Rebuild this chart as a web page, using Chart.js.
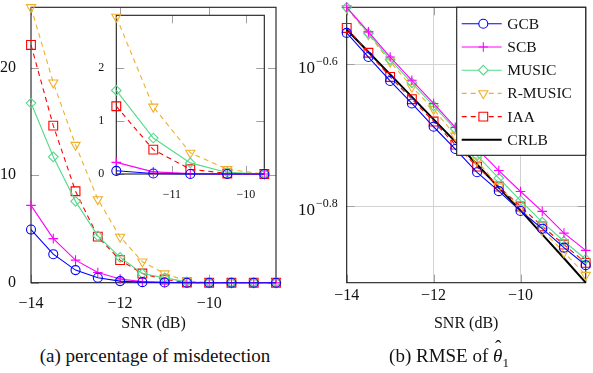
<!DOCTYPE html>
<html>
<head>
<meta charset="utf-8">
<script src="https://cdn.jsdelivr.net/npm/chart.js@4.4.1/dist/chart.umd.min.js"></script>
<style>
  body { margin: 0; background: #fff; width: 593px; height: 373px; position: relative; overflow: hidden; font-family: "Liberation Serif", "Times New Roman", Tinos, "DejaVu Serif", serif; }
  .quadro { position: absolute; }
  .legenda-fig { position: absolute; top: 345px; font-size: 19px; line-height: 22px; white-space: nowrap; transform: translateX(-50%); color: #111; }
  .legenda-fig sub { font-size: 13px; line-height: 0; }
  .chapeu { position: relative; font-style: italic; }
  .chapeu span { position: absolute; left: 2px; top: -9px; font-style: normal; }
  .teste { position: absolute; left: 300px; font-size: 14px; }
</style>
</head>
<body>
<canvas id="graficoDeteccao" class="quadro" style="left:0;top:0" width="290" height="340"></canvas>
<canvas id="graficoZoom" class="quadro" style="left:96px;top:8px" width="180" height="200"></canvas>
<canvas id="graficoRmse" class="quadro" style="left:290px;top:0" width="303" height="340"></canvas>
<div class="legenda-fig" style="left:155px">(a) percentage of misdetection</div>
<div class="legenda-fig" style="left:449px">(b) RMSE of <span class="chapeu">θ<span>ˆ</span></span><sub>1</sub></div>

<script>
/* ============================
   DADOS
============================ */

const snr = [-14, -13.5, -13, -12.5, -12, -11.5, -11, -10.5, -10, -9.5, -9, -8.5];
const snrTicks = [-14, -12, -10];

// (a) percentagem de falha de detecção
const falhaGCB    = [4.94, 2.65, 1.17, 0.46, 0.15, 0.05, 0.02, 0, 0, 0, 0, 0];
const falhaSCB    = [7.19, 4.10, 2.10, 0.95, 0.35, 0.10, 0.03, 0, 0, 0, 0, 0];
const falhaMUSIC  = [16.7, 11.7, 7.56, 4.35, 2.35, 0.85, 0.45, 0.08, 0, 0, 0, 0];
const falhaRMUSIC = [25.6, 18.6, 12.8, 7.75, 4.26, 1.95, 0.85, 0.15, 0.02, 0, 0, 0];
const falhaIAA    = [22.1, 14.6, 8.5, 4.28, 2.1, 0.85, 0.3, 0.02, 0, 0, 0, 0];
const falhaTicks  = [0, 10, 20];

// detalhe (inset)
const snrZoom      = [-11.75, -11.25, -10.75, -10.25, -9.75];
const snrZoomTicks = [-11, -10];
const zoomGCB    = [0.06, 0.01, 0, 0, 0];
const zoomSCB    = [0.22, 0.04, 0.01, 0, 0];
const zoomMUSIC  = [1.58, 0.68, 0.21, 0.03, 0];
const zoomRMUSIC = [2.97, 1.27, 0.40, 0.09, 0];
const zoomIAA    = [1.28, 0.46, 0.09, 0.01, 0];
const zoomTicks  = [0, 1, 2];

// (b) RMSE de theta_1
const rmseGCB    = [0.2782, 0.2572, 0.2380, 0.2212, 0.2051, 0.1908, 0.1769, 0.1664, 0.1560, 0.1473, 0.1385, 0.1308];
const rmseSCB    = [0.3023, 0.2791, 0.2572, 0.2385, 0.2212, 0.2047, 0.1910, 0.1779, 0.1662, 0.1558, 0.1452, 0.1373];
const rmseMUSIC  = [0.3023, 0.2777, 0.2550, 0.2366, 0.2195, 0.2036, 0.1867, 0.1736, 0.1614, 0.1505, 0.1414, 0.1334];
const rmseRMUSIC = [0.3014, 0.2768, 0.2533, 0.2334, 0.2172, 0.1992, 0.1837, 0.1689, 0.1573, 0.1465, 0.1365, 0.1267];
const rmseIAA    = [0.2827, 0.2608, 0.2411, 0.2243, 0.2086, 0.1935, 0.1802, 0.1689, 0.1583, 0.1484, 0.1399, 0.1318];
const rmseCRLB   = [0.2813, 0.2614, 0.2431, 0.2260, 0.2101, 0.1954, 0.1814, 0.1684, 0.1563, 0.1446, 0.1338, 0.1236];
const rmseExpoentes = [-0.8, -0.6];

/* ============================
   ESTILOS
============================ */

const FONTE = "'Liberation Serif', 'Times New Roman', Tinos, 'DejaVu Serif', serif";

const estilos = {
    "GCB":     { cor: "#0000ff", marcador: "circle",   raio: 4.5 },
    "SCB":     { cor: "#ff00ff", marcador: "cross",    raio: 4.8 },
    "MUSIC":   { cor: "#55d98a", marcador: "rectRot",  raio: 4.8 },
    "R-MUSIC": { cor: "#eeb02c", marcador: "triangle", raio: 5.3, rotacao: 180, traco: [5, 4] },
    "IAA":     { cor: "#ff0000", marcador: "rect",     raio: 6.2, traco: [5, 4] },
    "CRLB":    { cor: "#000000", marcador: false,      raio: 0, largura: 2 }
};

Chart.defaults.font.family = FONTE;
Chart.defaults.color = "#111";
Chart.defaults.animation = false;

function serie(label, xs, ys) {
    const e = estilos[label];
    return {
        label,
        data: ys.map((v, i) => ({ x: xs[i], y: v })),
        borderColor: e.cor,
        backgroundColor: "transparent",
        borderWidth: e.largura || 1.1,
        borderDash: e.traco || [],
        pointStyle: e.marcador,
        pointRadius: e.raio,
        pointRotation: e.rotacao || 0,
        pointBorderColor: e.cor,
        pointBackgroundColor: "transparent",
        pointBorderWidth: 1.1,
        tension: 0,
        clip: false
    };
}

const menos = v => (v < 0 ? "\u2212" + Math.abs(v) : String(v));

/* ============================
   PLUGINS
============================ */

// moldura preta + marcas de escala para dentro, como no pgfplots
const moldura = {
    id: "moldura",
    beforeDraw(chart, args, opts) {
        if (!opts.fundo) return;
        const { left, top, right, bottom } = chart.chartArea;
        chart.ctx.save();
        chart.ctx.fillStyle = "#fff";
        chart.ctx.fillRect(left, top, right - left, bottom - top);
        chart.ctx.restore();
    },
    beforeDatasetsDraw(chart, args, opts) {
        const ctx = chart.ctx;
        const { left, top, right, bottom } = chart.chartArea;
        const L = opts.tamanho || 8;
        ctx.save();
        ctx.strokeStyle = "#a0a0a0";
        ctx.lineWidth = 1;
        ctx.beginPath();
        chart.scales.x.ticks.forEach(t => {
            const px = Math.round(chart.scales.x.getPixelForValue(t.value)) + 0.5;
            ctx.moveTo(px, bottom); ctx.lineTo(px, bottom - L);
            ctx.moveTo(px, top); ctx.lineTo(px, top + L);
        });
        chart.scales.y.ticks.forEach(t => {
            const py = Math.round(chart.scales.y.getPixelForValue(t.value)) + 0.5;
            ctx.moveTo(left, py); ctx.lineTo(left + L, py);
            ctx.moveTo(right, py); ctx.lineTo(right - L, py);
        });
        ctx.stroke();
        ctx.strokeStyle = "#1c1c1c";
        ctx.lineWidth = 1.1;
        ctx.strokeRect(left, top, right - left, bottom - top);
        ctx.restore();
    }
};

// rótulos 10^{-0.6} no eixo log
const potencias = {
    id: "potencias",
    afterDraw(chart) {
        const ctx = chart.ctx;
        const y = chart.scales.y;
        ctx.save();
        ctx.fillStyle = "#111";
        ctx.textBaseline = "alphabetic";
        rmseExpoentes.forEach(p => {
            const py = y.getPixelForValue(Math.pow(10, p));
            const sup = "\u2212" + Math.abs(p).toFixed(1);
            ctx.font = "17px " + FONTE;
            const wBase = ctx.measureText("10").width;
            ctx.font = "12px " + FONTE;
            const wSup = ctx.measureText(sup).width;
            const x0 = chart.chartArea.left - 10 - wSup - wBase;
            ctx.font = "17px " + FONTE;
            ctx.fillText("10", x0, py + 9);
            ctx.font = "12px " + FONTE;
            ctx.fillText(sup, x0 + wBase + 1, py + 1);
        });
        ctx.restore();
    }
};

// legenda desenhada dentro do gráfico
const legenda = {
    id: "legenda",
    afterDraw(chart, args, opts) {
        if (!opts.mostrar) return;
        const ctx = chart.ctx;
        const x0 = chart.chartArea.right - 129, y0 = chart.chartArea.top, w = 129, h = 148;
        ctx.save();
        ctx.fillStyle = "#fff";
        ctx.fillRect(x0, y0, w, h);
        ctx.strokeStyle = "#1c1c1c";
        ctx.lineWidth = 1.1;
        ctx.strokeRect(x0, y0, w, h);
        chart.data.datasets.forEach((ds, i) => {
            const yc = y0 + 16.5 + i * 23.2;
            ctx.strokeStyle = ds.borderColor;
            ctx.lineWidth = ds.borderWidth;
            ctx.setLineDash(ds.borderDash);
            ctx.beginPath();
            ctx.moveTo(x0 + 5, yc);
            ctx.lineTo(x0 + 45, yc);
            ctx.stroke();
            ctx.setLineDash([]);
            if (ds.pointStyle) {
                ctx.fillStyle = "#fff";
                ctx.lineWidth = 1.1;
                Chart.helpers.drawPoint(ctx, {
                    pointStyle: ds.pointStyle,
                    rotation: ds.pointRotation,
                    radius: ds.pointRadius,
                    borderWidth: 1.1
                }, x0 + 26.6, yc);
            }
            ctx.fillStyle = "#111";
            ctx.font = "15.5px " + FONTE;
            ctx.textBaseline = "middle";
            ctx.fillText(ds.label, x0 + 50.6, yc + 1);
        });
        ctx.restore();
    }
};

/* ============================
   GRÁFICOS
============================ */

function eixoX(min, max, ticks, altura, comTitulo, grade) {
    return {
        type: "linear",
        min, max,
        afterBuildTicks: s => { s.ticks = ticks.map(v => ({ value: v })); },
        afterFit: s => { s.height = altura; s.paddingLeft = 0; s.paddingRight = 0; },
        grid: grade ? { color: "#d2d2d2", drawTicks: false } : { display: false },
        border: { display: false },
        ticks: { callback: menos, padding: comTitulo ? 3 : 6, maxRotation: 0, font: { size: comTitulo ? 16 : 12 } },
        title: comTitulo ? { display: true, text: "SNR (dB)", font: { size: 16 }, padding: { top: 0, bottom: 7 } } : { display: false }
    };
}

function gerarGraficoFalha() {
    new Chart(document.getElementById("graficoDeteccao"), {
        type: "line",
        data: {
            datasets: [
                serie("GCB", snr, falhaGCB),
                serie("SCB", snr, falhaSCB),
                serie("MUSIC", snr, falhaMUSIC),
                serie("R-MUSIC", snr, falhaRMUSIC),
                serie("IAA", snr, falhaIAA)
            ]
        },
        options: {
            responsive: false,
            layout: { padding: { left: 0, right: 14, top: 6, bottom: 0 } },
            plugins: { legend: { display: false }, tooltip: { enabled: false }, moldura: {} },
            scales: {
                x: eixoX(-14, -8.5, snrTicks, 57.3, true, false),
                y: {
                    min: 0, max: 25.6,
                    afterBuildTicks: s => { s.ticks = falhaTicks.map(v => ({ value: v })); },
                    afterFit: s => { s.width = 31; s.paddingTop = 0; s.paddingBottom = 0; },
                    grid: { display: false },
                    border: { display: false },
                    ticks: { padding: 7, font: { size: 16 } }
                }
            }
        },
        plugins: [moldura]
    });
}

function gerarGraficoZoom() {
    new Chart(document.getElementById("graficoZoom"), {
        type: "line",
        data: {
            datasets: [
                serie("GCB", snrZoom, zoomGCB),
                serie("SCB", snrZoom, zoomSCB),
                serie("MUSIC", snrZoom, zoomMUSIC),
                serie("R-MUSIC", snrZoom, zoomRMUSIC),
                serie("IAA", snrZoom, zoomIAA)
            ]
        },
        options: {
            responsive: false,
            layout: { padding: { left: 0, right: 11.7, top: 6, bottom: 0 } },
            plugins: { legend: { display: false }, tooltip: { enabled: false }, moldura: { fundo: true, tamanho: 8 } },
            scales: {
                x: eixoX(-11.75, -9.75, snrZoomTicks, 34, false, false),
                y: {
                    min: 0, max: 3,
                    afterBuildTicks: s => { s.ticks = zoomTicks.map(v => ({ value: v })); },
                    afterFit: s => { s.width = 20.3; s.paddingTop = 0; s.paddingBottom = 0; },
                    grid: { display: false },
                    border: { display: false },
                    ticks: { padding: 4, font: { size: 12 } }
                }
            }
        },
        plugins: [moldura]
    });
}

function gerarGraficoRmse() {
    new Chart(document.getElementById("graficoRmse"), {
        type: "line",
        data: {
            datasets: [
                serie("GCB", snr, rmseGCB),
                serie("SCB", snr, rmseSCB),
                serie("MUSIC", snr, rmseMUSIC),
                serie("R-MUSIC", snr, rmseRMUSIC),
                serie("IAA", snr, rmseIAA),
                serie("CRLB", snr, rmseCRLB)
            ]
        },
        options: {
            responsive: false,
            layout: { padding: { left: 0, right: 1.3, top: 6, bottom: 0 } },
            plugins: { legend: { display: false }, tooltip: { enabled: false }, moldura: {}, legenda: { mostrar: true } },
            scales: {
                x: eixoX(-14, -8.5, snrTicks, 57.3, true, true),
                y: {
                    type: "logarithmic",
                    min: 0.1236, max: 0.3023,
                    afterBuildTicks: s => { s.ticks = rmseExpoentes.map(p => ({ value: Math.pow(10, p) })); },
                    afterFit: s => { s.width = 56.7; s.paddingTop = 0; s.paddingBottom = 0; },
                    grid: { color: "#d2d2d2", drawTicks: false },
                    border: { display: false },
                    ticks: { display: false }
                }
            }
        },
        plugins: [moldura, potencias, legenda]
    });
}

gerarGraficoFalha();
gerarGraficoZoom();
gerarGraficoRmse();
</script>
</body>
</html>
